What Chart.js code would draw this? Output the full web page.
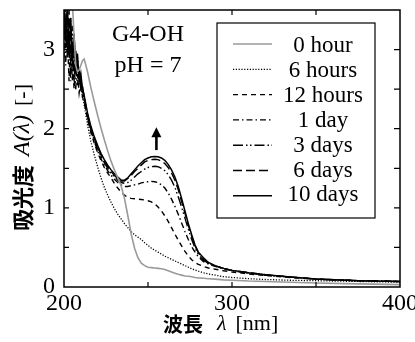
<!DOCTYPE html>
<html><head><meta charset="utf-8">
<script src="https://cdn.jsdelivr.net/npm/chart.js@4/dist/chart.umd.min.js"></script>
<style>html,body{margin:0;padding:0;background:#fff;}canvas{display:block}</style>
</head><body>
<canvas id="c" width="415" height="342"></canvas>
<script>
// ---- data ----
const wavelengths = [200,201,202,203,204,205,206,207,208,209,210,211,212,
  214,216,218,220,222,224,226,228,230,232,234,236,238,240,242,244,246,248,250,252,254,256,258,260,262,264,266,268,270,272,274,276,278,280,
  283,286,290,295,300,310,320,335,350,375,400];

const hour0 = [3.7,3.7,3.7,3.7,3.7,3.6,3.15,2.8,2.72,2.74,2.8,2.86,2.88,
  2.72,2.52,2.34,2.17,2.01,1.86,1.72,1.59,1.48,1.38,1.28,1.12,0.90,0.67,0.49,0.37,0.30,0.27,0.25,0.245,0.24,0.235,0.23,0.22,0.205,0.19,0.175,0.16,0.15,0.14,0.135,0.13,0.12,0.115,
  0.11,0.105,0.10,0.09,0.085,0.075,0.07,0.06,0.05,0.04,0.03];
const hours6 = [3.6,3.3,3.5,3.1,3.4,2.9,3.2,2.8,2.9,2.6,2.55,2.4,2.3,
  2.05,1.84,1.67,1.52,1.38,1.26,1.16,1.07,0.99,0.92,0.86,0.80,0.75,0.70,0.66,0.63,0.60,0.56,0.525,0.49,0.465,0.44,0.415,0.39,0.37,0.35,0.33,0.31,0.29,0.27,0.25,0.23,0.215,0.20,
  0.18,0.165,0.15,0.13,0.12,0.105,0.095,0.085,0.08,0.07,0.06];
const hours12 = [2.9,3.4,3.2,2.6,3.3,2.9,2.5,2.9,2.7,2.45,2.6,2.4,2.34,
  2.12,1.95,1.82,1.70,1.60,1.51,1.44,1.38,1.31,1.25,1.20,1.16,1.13,1.12,1.115,1.11,1.105,1.10,1.09,1.075,1.05,1.01,0.96,0.90,0.83,0.75,0.67,0.59,0.52,0.45,0.39,0.345,0.31,0.285,
  0.26,0.24,0.225,0.205,0.19,0.165,0.145,0.12,0.10,0.08,0.07];
const day1 = [3.6,2.8,3.4,3.1,3.0,2.6,3.1,2.8,2.55,2.75,2.5,2.5,2.36,
  2.14,1.97,1.84,1.72,1.62,1.54,1.47,1.41,1.36,1.32,1.29,1.27,1.27,1.28,1.29,1.30,1.315,1.325,1.33,1.335,1.33,1.32,1.29,1.25,1.19,1.11,1.02,0.92,0.81,0.70,0.60,0.51,0.44,0.38,
  0.32,0.29,0.26,0.23,0.205,0.175,0.15,0.125,0.10,0.08,0.07];
const days3 = [3.2,3.6,3.0,3.2,2.6,3.3,2.9,2.5,2.9,2.6,2.65,2.45,2.38,
  2.16,1.99,1.86,1.75,1.65,1.57,1.50,1.44,1.39,1.35,1.32,1.31,1.32,1.35,1.39,1.43,1.46,1.49,1.51,1.52,1.525,1.52,1.50,1.47,1.42,1.35,1.26,1.14,1.01,0.87,0.73,0.60,0.49,0.41,
  0.34,0.30,0.265,0.235,0.21,0.178,0.152,0.125,0.10,0.08,0.07];
const days6 = [3.5,3.3,2.9,3.5,2.8,3.1,2.6,3.0,2.7,2.75,2.5,2.55,2.40,
  2.18,2.01,1.88,1.77,1.67,1.59,1.52,1.46,1.41,1.37,1.34,1.34,1.37,1.41,1.46,1.50,1.54,1.58,1.60,1.61,1.615,1.61,1.59,1.56,1.51,1.44,1.35,1.23,1.08,0.93,0.78,0.64,0.52,0.43,
  0.35,0.30,0.265,0.235,0.21,0.18,0.155,0.125,0.10,0.08,0.07];
const days10 = [3.6,3.1,3.6,2.9,3.4,2.8,3.2,2.7,2.95,2.6,2.7,2.5,2.42,
  2.20,2.03,1.90,1.79,1.69,1.61,1.54,1.48,1.43,1.39,1.35,1.35,1.38,1.43,1.48,1.53,1.57,1.61,1.63,1.645,1.65,1.645,1.63,1.60,1.55,1.48,1.39,1.27,1.12,0.96,0.80,0.66,0.53,0.44,
  0.37,0.31,0.27,0.235,0.21,0.18,0.155,0.125,0.10,0.08,0.07];

const seriesLabels = ['0 hour','6 hours','12 hours','1 day','3 days','6 days','10 days'];
const xTickLabels = ['200','300','400'];
const yTickLabels = ['0','1','2','3'];
const annotationLines = ['G4-OH','pH = 7'];

// ---- styles ----
const seriesValues = [hour0, hours6, hours12, day1, days3, days6, days10];
const styles = [
  {color:'#9a9a9a', dash:[], width:1.6},
  {color:'#000', dash:[1.2,1.6], width:1.3},
  {color:'#000', dash:[5,4], width:1.4},
  {color:'#000', dash:[6,3,1.5,3], width:1.4},
  {color:'#000', dash:[10,3,1.5,2.5,1.5,3], width:1.4},
  {color:'#000', dash:[9,4], width:1.4},
  {color:'#000', dash:[], width:1.5}
];
const SERIF = '"Liberation Serif","Times New Roman",serif';
const CJK = '"Noto Sans CJK JP","Noto Sans CJK SC",sans-serif';

const datasets = seriesValues.map((vals, i) => ({
  label: seriesLabels[i],
  data: vals.map((v, j) => ({x: wavelengths[j], y: v})),
  borderColor: styles[i].color,
  borderDash: styles[i].dash,
  borderWidth: styles[i].width,
  pointRadius: 0,
  fill: false,
  tension: 0,
  borderCapStyle: 'butt'
}));

// pieces: text, font, gap after
function drawPieces(ctx, pieces, x, y) {
  let cx = x;
  pieces.forEach(p => { ctx.font = p.f; ctx.fillText(p.t, cx, y); cx += ctx.measureText(p.t).width + (p.g || 0); });
}

const decor = {
  id: 'decor',
  afterDraw(chart) {
    const {ctx, chartArea: a, scales: {x, y}} = chart;
    ctx.save();
    ctx.strokeStyle = '#000'; ctx.fillStyle = '#000';
    // frame
    ctx.lineWidth = 1.5;
    ctx.strokeRect(a.left, a.top, a.right - a.left, a.bottom - a.top);
    // inward ticks
    ctx.lineWidth = 1.2;
    ctx.beginPath();
    x.ticks.forEach(t => {
      const px = x.getPixelForValue(t.value);
      if (px <= a.left + 1 || px >= a.right - 1) return;
      ctx.moveTo(px, a.bottom); ctx.lineTo(px, a.bottom - 5);
      ctx.moveTo(px, a.top); ctx.lineTo(px, a.top + 5);
    });
    y.ticks.forEach(t => {
      const py = y.getPixelForValue(t.value);
      if (py >= a.bottom - 1 || py <= a.top + 1) return;
      ctx.moveTo(a.left, py); ctx.lineTo(a.left + 5, py);
      ctx.moveTo(a.right, py); ctx.lineTo(a.right - 6, py);
    });
    ctx.stroke();

    // annotation text
    ctx.font = '24px ' + SERIF; ctx.textAlign = 'center'; ctx.textBaseline = 'middle';
    ctx.fillText(annotationLines[0], x.getPixelForValue(250), y.getPixelForValue(3.19));
    ctx.fillText(annotationLines[1], x.getPixelForValue(250), y.getPixelForValue(2.79));

    // arrow
    const ax = x.getPixelForValue(255);
    const yTip = y.getPixelForValue(2.02), yBase = y.getPixelForValue(1.73);
    ctx.lineWidth = 2.6;
    ctx.beginPath(); ctx.moveTo(ax, yBase); ctx.lineTo(ax, yTip + 8); ctx.stroke();
    ctx.beginPath(); ctx.moveTo(ax, yTip); ctx.lineTo(ax - 5, yTip + 10); ctx.lineTo(ax + 5, yTip + 10); ctx.closePath(); ctx.fill();

    // legend
    ctx.lineWidth = 1.2;
    ctx.strokeRect(217, 23, 158, 195);
    chart.data.datasets.forEach((ds, i) => {
      const ly = 44 + i * 25.3;
      ctx.strokeStyle = ds.borderColor; ctx.lineWidth = ds.borderWidth;
      ctx.setLineDash(ds.borderDash);
      ctx.beginPath(); ctx.moveTo(233, ly); ctx.lineTo(272, ly); ctx.stroke();
      ctx.setLineDash([]);
      ctx.fillStyle = '#000';
      ctx.font = '23px ' + SERIF; ctx.textAlign = 'center'; ctx.textBaseline = 'middle';
      ctx.fillText(ds.label, 323, 46 + i * 24.9);
    });

    // axis titles
    ctx.fillStyle = '#000'; ctx.textAlign = 'left'; ctx.textBaseline = 'middle';
    const yTitle = [
      {t: '吸光度', f: 'bold 22px ' + CJK, g: 9},
      {t: 'A(λ)', f: 'italic 24px ' + SERIF, g: 9},
      {t: '[-]', f: '22px ' + SERIF}
    ];
    ctx.save();
    ctx.translate(23, 231);
    ctx.rotate(-Math.PI / 2);
    drawPieces(ctx, yTitle, 0, 0);
    ctx.restore();
    const xTitle = [
      {t: '波長', f: 'bold 20px ' + CJK, g: 14},
      {t: 'λ', f: 'italic 22px ' + SERIF, g: 9},
      {t: '[nm]', f: '22px ' + SERIF}
    ];
    drawPieces(ctx, xTitle, 163, 324);
    ctx.restore();
  }
};

new Chart(document.getElementById('c'), {
  type: 'line',
  data: {datasets},
  options: {
    responsive: false,
    animation: false,
    devicePixelRatio: 1,
    layout: {padding: {top: 10, right: 15, left: 0, bottom: 0}},
    plugins: {legend: {display: false}, tooltip: {enabled: false}},
    scales: {
      x: {
        type: 'linear', min: 200, max: 400,
        grid: {display: false, drawTicks: false},
        border: {display: false},
        ticks: {
          stepSize: 50, autoSkip: false, maxRotation: 0, padding: 2, color: '#000',
          font: {family: SERIF, size: 24},
          callback: v => xTickLabels.includes(String(v)) ? String(v) : ''
        },
        afterFit: s => { s.height = 55; s.paddingLeft = 0; s.paddingRight = 0; }
      },
      y: {
        type: 'linear', min: 0, max: 3.5,
        grid: {display: false, drawTicks: false},
        border: {display: false},
        ticks: {
          stepSize: 0.5, autoSkip: false, padding: 9, color: '#000',
          font: {family: SERIF, size: 24},
          callback: v => yTickLabels.includes(String(v)) ? String(v) : ''
        },
        afterFit: s => { s.width = 64; s.paddingTop = 0; s.paddingBottom = 0; }
      }
    }
  },
  plugins: [decor]
});
</script>
</body></html>
